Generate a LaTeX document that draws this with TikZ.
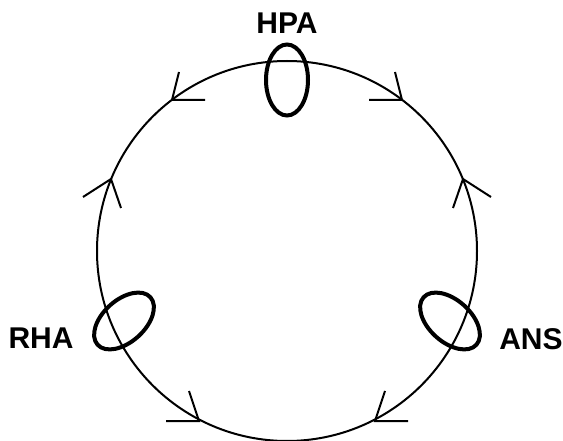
\documentclass[tikz,border=0pt]{standalone}
\usepackage{fontspec}
\setmainfont{Liberation Sans}
\begin{document}
\begin{tikzpicture}[x=1pt,y=-1pt,
  loop/.style={line width=2pt},
  oval/.style={line width=4pt},
  tip/.style={line width=2pt,line join=miter},
  lab/.style={font=\bfseries\fontsize{30}{36}\selectfont,inner sep=0pt,anchor=center}]
\useasboundingbox (0,0) rectangle (563,441);
\coordinate (c) at (287,251);
\draw[loop] (c) circle[radius=190pt];
% ovals
\draw[oval] (287,80) ellipse[x radius=21pt,y radius=35.5pt];
\draw[oval,rotate around={42:(124,321)}] (124,321) ellipse[x radius=35.5pt,y radius=21pt];
\draw[oval,rotate around={-42:(450,321)}] (450,321) ellipse[x radius=35.5pt,y radius=21pt];
% arrow heads
\coordinate (tr) at (402,100);
\coordinate (tl) at (172,100);
\coordinate (r) at (463,179);
\coordinate (l) at (111,179);
\coordinate (br) at (375,421);
\coordinate (bl) at (199,421);
\draw[tip] (369,100) -- (tr) -- (395,72);
\draw[tip] (205,100) -- (tl) -- (179,72);
\draw[tip] (453,208) -- (r) -- (491,197);
\draw[tip] (121,208) -- (l) -- (83,197);
\draw[tip] (408,421) -- (br) -- (385,391);
\draw[tip] (166,421) -- (bl) -- (189,391);
% labels
\node[lab] (hpa) at (287,23) {HPA};
\node[lab] (rha) at (41,338.5) {RHA};
\node[lab] (ans) at (531,339.5) {ANS};
\end{tikzpicture}
\end{document}
